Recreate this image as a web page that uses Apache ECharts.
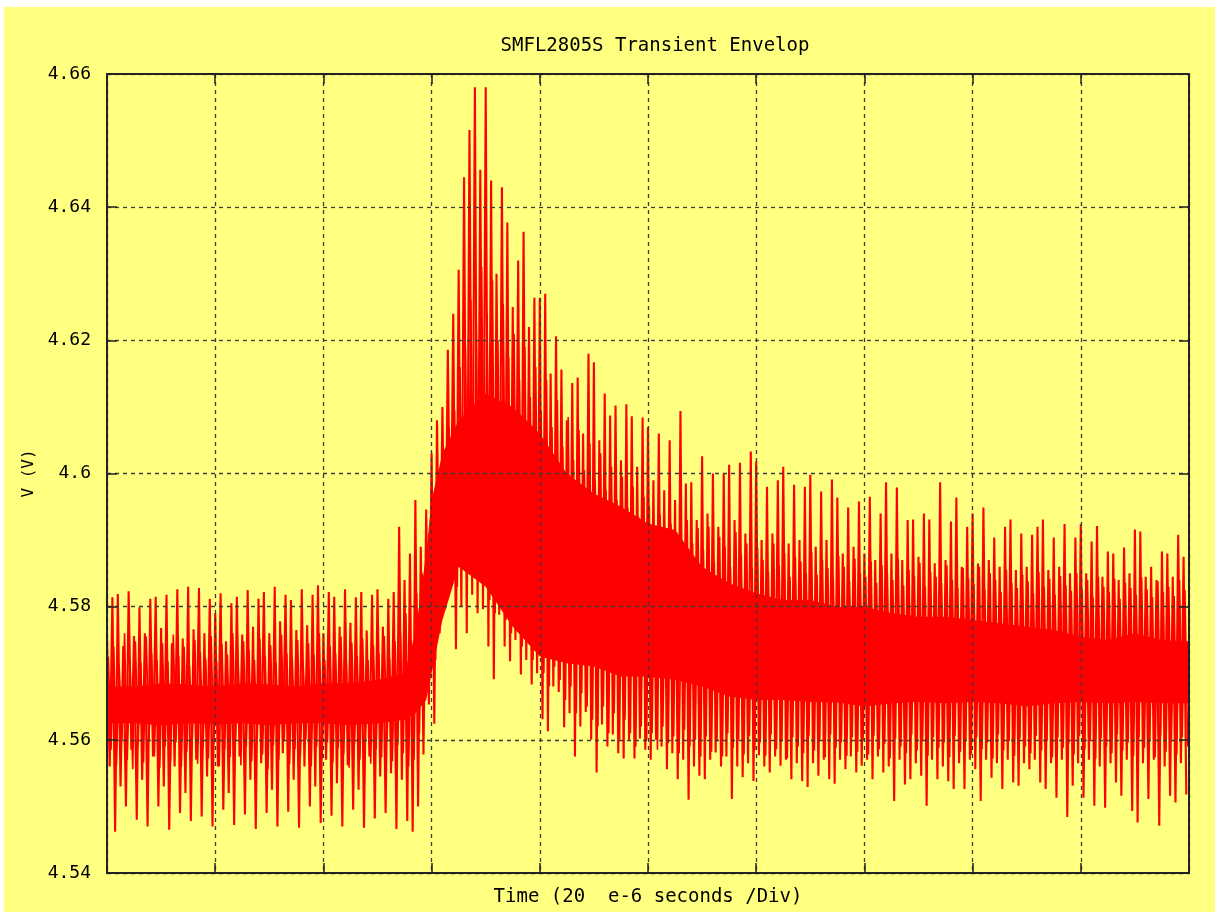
<!DOCTYPE html>
<html>
<head>
<meta charset="utf-8">
<title>SMFL2805S Transient Envelop</title>
<script src="https://cdn.jsdelivr.net/npm/echarts@6/dist/echarts.min.js"></script>
<style>
  html, body { margin: 0; padding: 0; background: #ffffff; }
  #scope { position: absolute; left: 4px; top: 7px; width: 1211px; height: 905px; background: #ffff80; }
</style>
</head>
<body>
<div id="scope"></div>
<script>
// Scope traces, one spike top and one spike bottom per microsecond
const sampleStepUs = 1;

// outer sweep: the tallest spikes
const spikeTop = [
  4.5756, 4.5814, 4.5819, 4.5741, 4.5823, 4.5756, 4.5799, 4.5760, 4.5812, 4.5815,
  4.5768, 4.5818, 4.5745, 4.5826, 4.5752, 4.5830, 4.5766, 4.5828, 4.5760, 4.5812,
  4.5790, 4.5820, 4.5748, 4.5805, 4.5815, 4.5758, 4.5825, 4.5770, 4.5812, 4.5822,
  4.5760, 4.5830, 4.5778, 4.5818, 4.5810, 4.5765, 4.5826, 4.5772, 4.5818, 4.5832,
  4.5760, 4.5822, 4.5815, 4.5770, 4.5826, 4.5776, 4.5814, 4.5822, 4.5764, 4.5818,
  4.5826, 4.5770, 4.5812, 4.5822, 4.5920, 4.5840, 4.5880, 4.5960, 4.5890, 4.5946,
  4.6030, 4.6080, 4.6100, 4.6186, 4.6240, 4.6306, 4.6445, 4.6516, 4.6580, 4.6456,
  4.6580, 4.6440, 4.6300, 4.6430, 4.6377, 4.6250, 4.6320, 4.6363, 4.6220, 4.6264,
  4.6264, 4.6270, 4.6150, 4.6206, 4.6156, 4.6080, 4.6136, 4.6144, 4.6060, 4.6180,
  4.6167, 4.6050, 4.6120, 4.6087, 4.6102, 4.6020, 4.6104, 4.6086, 4.6010, 4.6084,
  4.6070, 4.5990, 4.6060, 4.5975, 4.6050, 4.5960, 4.6094, 4.5985, 4.5987, 4.5930,
  4.6026, 4.5940, 4.6000, 4.5920, 4.6000, 4.6013, 4.5930, 4.6016, 4.5910, 4.6033,
  4.6018, 4.5900, 4.5980, 4.5910, 4.5990, 4.6010, 4.5895, 4.5983, 4.5900, 4.5980,
  4.5998, 4.5890, 4.5973, 4.5900, 4.5991, 4.5964, 4.5880, 4.5949, 4.5890, 4.5958,
  4.5880, 4.5965, 4.5870, 4.5940, 4.5987, 4.5880, 4.5979, 4.5870, 4.5930, 4.5931,
  4.5875, 4.5940, 4.5931, 4.5865, 4.5987, 4.5870, 4.5928, 4.5964, 4.5860, 4.5920,
  4.5940, 4.5865, 4.5949, 4.5870, 4.5904, 4.5860, 4.5920, 4.5931, 4.5855, 4.5910,
  4.5860, 4.5908, 4.5920, 4.5931, 4.5855, 4.5904, 4.5860, 4.5924, 4.5850, 4.5904,
  4.5924, 4.5850, 4.5898, 4.5921, 4.5845, 4.5883, 4.5880, 4.5840, 4.5889, 4.5850,
  4.5916, 4.5913, 4.5845, 4.5860, 4.5840, 4.5883, 4.5880, 4.5845, 4.5908, 4.5875
];

const spikeBottom = [
  4.5560, 4.5462, 4.5530, 4.5500, 4.5585, 4.5480, 4.5540, 4.5470, 4.5575, 4.5500,
  4.5530, 4.5465, 4.5560, 4.5490, 4.5520, 4.5478, 4.5570, 4.5485, 4.5545, 4.5470,
  4.5560, 4.5495, 4.5520, 4.5472, 4.5575, 4.5488, 4.5540, 4.5466, 4.5565, 4.5490,
  4.5525, 4.5470, 4.5580, 4.5492, 4.5540, 4.5468, 4.5560, 4.5500, 4.5530, 4.5475,
  4.5570, 4.5486, 4.5535, 4.5470, 4.5562, 4.5495, 4.5525, 4.5468, 4.5575, 4.5482,
  4.5545, 4.5490, 4.5550, 4.5466, 4.5540, 4.5478, 4.5462, 4.5500, 4.5578, 4.5653,
  4.5624, 4.5760, 4.5796, 4.5840, 4.5736, 4.5800, 4.5760, 4.5818, 4.5790, 4.5796,
  4.5740, 4.5691, 4.5788, 4.5740, 4.5718, 4.5750, 4.5698, 4.5720, 4.5683, 4.5700,
  4.5631, 4.5613, 4.5680, 4.5672, 4.5619, 4.5640, 4.5575, 4.5620, 4.5642, 4.5600,
  4.5551, 4.5623, 4.5590, 4.5608, 4.5580, 4.5572, 4.5600, 4.5572, 4.5602, 4.5585,
  4.5570, 4.5600, 4.5590, 4.5556, 4.5580, 4.5541, 4.5570, 4.5510, 4.5560, 4.5546,
  4.5541, 4.5570, 4.5581, 4.5560, 4.5575, 4.5511, 4.5560, 4.5544, 4.5565, 4.5538,
  4.5577, 4.5560, 4.5551, 4.5575, 4.5561, 4.5570, 4.5541, 4.5565, 4.5538, 4.5529,
  4.5565, 4.5546, 4.5570, 4.5541, 4.5534, 4.5570, 4.5556, 4.5575, 4.5551, 4.5561,
  4.5570, 4.5541, 4.5575, 4.5551, 4.5560, 4.5508, 4.5570, 4.5533, 4.5541, 4.5565,
  4.5546, 4.5501, 4.5570, 4.5541, 4.5560, 4.5538, 4.5526, 4.5565, 4.5526, 4.5570,
  4.5556, 4.5508, 4.5570, 4.5543, 4.5565, 4.5526, 4.5570, 4.5536, 4.5531, 4.5565,
  4.5556, 4.5570, 4.5536, 4.5526, 4.5565, 4.5513, 4.5570, 4.5484, 4.5531, 4.5565,
  4.5513, 4.5570, 4.5501, 4.5560, 4.5498, 4.5565, 4.5536, 4.5516, 4.5570, 4.5493,
  4.5476, 4.5565, 4.5511, 4.5570, 4.5471, 4.5560, 4.5516, 4.5506, 4.5565, 4.5518
];

// inner sweep: the shorter spikes packed in between
const innerTop = [
  4.5725, 4.5740, 4.5712, 4.5760, 4.5722, 4.5748, 4.5716, 4.5755, 4.5730, 4.5720,
  4.5745, 4.5718, 4.5758, 4.5726, 4.5740, 4.5712, 4.5750, 4.5732, 4.5722, 4.5756,
  4.5718, 4.5744, 4.5728, 4.5760, 4.5715, 4.5748, 4.5735, 4.5720, 4.5752, 4.5726,
  4.5742, 4.5716, 4.5758, 4.5730, 4.5722, 4.5750, 4.5718, 4.5745, 4.5728, 4.5760,
  4.5720, 4.5740, 4.5730, 4.5755, 4.5716, 4.5746, 4.5726, 4.5752, 4.5720, 4.5742,
  4.5730, 4.5756, 4.5722, 4.5748, 4.5760, 4.5790, 4.5750, 4.5820, 4.5850, 4.5880,
  4.5930, 4.5985, 4.6015, 4.6070, 4.6095, 4.6160, 4.6190, 4.6260, 4.6230, 4.6310,
  4.6240, 4.6290, 4.6200, 4.6255, 4.6175, 4.6210, 4.6140, 4.6190, 4.6115, 4.6160,
  4.6095, 4.6140, 4.6070, 4.6110, 4.6040, 4.6085, 4.6020, 4.6065, 4.6005, 4.6045,
  4.5990, 4.6030, 4.5975, 4.6010, 4.5960, 4.5995, 4.5948, 4.5980, 4.5935, 4.5965,
  4.5950, 4.5905, 4.5938, 4.5880, 4.5925, 4.5912, 4.5870, 4.5930, 4.5895, 4.5918,
  4.5885, 4.5920, 4.5868, 4.5905, 4.5890, 4.5860, 4.5912, 4.5878, 4.5895, 4.5858,
  4.5888, 4.5870, 4.5852, 4.5895, 4.5862, 4.5880, 4.5845, 4.5875, 4.5868, 4.5850,
  4.5882, 4.5848, 4.5870, 4.5858, 4.5842, 4.5876, 4.5860, 4.5838, 4.5872, 4.5850,
  4.5845, 4.5868, 4.5836, 4.5862, 4.5850, 4.5840, 4.5872, 4.5832, 4.5855, 4.5846,
  4.5866, 4.5830, 4.5852, 4.5845, 4.5836, 4.5862, 4.5840, 4.5828, 4.5858, 4.5842,
  4.5834, 4.5860, 4.5826, 4.5850, 4.5840, 4.5822, 4.5855, 4.5836, 4.5828, 4.5848,
  4.5838, 4.5820, 4.5852, 4.5830, 4.5842, 4.5818, 4.5846, 4.5832, 4.5824, 4.5850,
  4.5826, 4.5840, 4.5815, 4.5845, 4.5830, 4.5822, 4.5842, 4.5812, 4.5836, 4.5828,
  4.5818, 4.5844, 4.5826, 4.5814, 4.5838, 4.5822, 4.5830, 4.5816, 4.5840, 4.5825
];

const innerBottom = [
  4.5585, 4.5562, 4.5598, 4.5570, 4.5556, 4.5592, 4.5566, 4.5600, 4.5575, 4.5558,
  4.5590, 4.5568, 4.5596, 4.5560, 4.5582, 4.5598, 4.5564, 4.5588, 4.5572, 4.5594,
  4.5560, 4.5586, 4.5574, 4.5598, 4.5562, 4.5590, 4.5568, 4.5596, 4.5578, 4.5556,
  4.5592, 4.5570, 4.5598, 4.5564, 4.5586, 4.5576, 4.5600, 4.5560, 4.5590, 4.5572,
  4.5596, 4.5566, 4.5588, 4.5578, 4.5558, 4.5594, 4.5570, 4.5598, 4.5564, 4.5586,
  4.5574, 4.5600, 4.5568, 4.5592, 4.5580, 4.5560, 4.5570, 4.5610, 4.5660, 4.5700,
  4.5720, 4.5780, 4.5820, 4.5860, 4.5830, 4.5870, 4.5850, 4.5880, 4.5840, 4.5860,
  4.5810, 4.5790, 4.5830, 4.5780, 4.5760, 4.5790, 4.5740, 4.5760, 4.5720, 4.5740,
  4.5700, 4.5680, 4.5710, 4.5690, 4.5660, 4.5680, 4.5640, 4.5670, 4.5650, 4.5630,
  4.5620, 4.5650, 4.5610, 4.5640, 4.5600, 4.5630, 4.5610, 4.5590, 4.5620, 4.5600,
  4.5610, 4.5585, 4.5620, 4.5595, 4.5605, 4.5580, 4.5615, 4.5590, 4.5600, 4.5575,
  4.5605, 4.5582, 4.5598, 4.5575, 4.5610, 4.5588, 4.5600, 4.5578, 4.5606, 4.5584,
  4.5596, 4.5576, 4.5608, 4.5586, 4.5598, 4.5572, 4.5604, 4.5590, 4.5580, 4.5606,
  4.5584, 4.5600, 4.5574, 4.5608, 4.5588, 4.5596, 4.5576, 4.5604, 4.5582, 4.5598,
  4.5578, 4.5606, 4.5586, 4.5594, 4.5572, 4.5602, 4.5590, 4.5580, 4.5608, 4.5584,
  4.5598, 4.5576, 4.5604, 4.5588, 4.5596, 4.5574, 4.5606, 4.5582, 4.5600, 4.5578,
  4.5604, 4.5586, 4.5596, 4.5572, 4.5608, 4.5584, 4.5598, 4.5576, 4.5602, 4.5590,
  4.5580, 4.5606, 4.5584, 4.5598, 4.5574, 4.5604, 4.5588, 4.5594, 4.5578, 4.5606,
  4.5586, 4.5598, 4.5572, 4.5602, 4.5590, 4.5580, 4.5608, 4.5584, 4.5596, 4.5576,
  4.5604, 4.5588, 4.5598, 4.5574, 4.5606, 4.5582, 4.5600, 4.5578, 4.5604, 4.5590
];

// solid band where the overlapping sweeps merge
const coreTime = [0, 5, 10, 15, 20, 25, 30, 35, 40, 45, 50, 55, 57, 59, 60, 62, 65, 70, 75, 80,
  85, 90, 95, 100, 105, 110, 115, 120, 125, 130, 135, 140, 145, 150, 155, 160, 165, 170, 175, 180,
  185, 190, 195, 200];
const coreUpper = [4.5680, 4.5680, 4.5685, 4.5683, 4.5680, 4.5685, 4.5683, 4.5680, 4.5685, 4.5685,
  4.5690, 4.5700, 4.5760, 4.5880, 4.5960, 4.6030, 4.6080, 4.6120, 4.6100, 4.6060,
  4.6000, 4.5970, 4.5950, 4.5925, 4.5915, 4.5860, 4.5835, 4.5820, 4.5810, 4.5810,
  4.5800, 4.5800, 4.5790, 4.5785, 4.5785, 4.5780, 4.5775, 4.5770, 4.5765, 4.5755,
  4.5750, 4.5760, 4.5750, 4.5748];
const coreLower = [4.5625, 4.5625, 4.5622, 4.5625, 4.5623, 4.5625, 4.5622, 4.5625, 4.5625, 4.5622,
  4.5625, 4.5630, 4.5640, 4.5660, 4.5700, 4.5780, 4.5860, 4.5830, 4.5770, 4.5725,
  4.5715, 4.5710, 4.5695, 4.5695, 4.5690, 4.5680, 4.5665, 4.5660, 4.5660, 4.5657,
  4.5656, 4.5650, 4.5655, 4.5657, 4.5655, 4.5657, 4.5655, 4.5650, 4.5655, 4.5657,
  4.5655, 4.5657, 4.5655, 4.5655];

const yTicks = [4.54, 4.56, 4.58, 4.6, 4.62, 4.64, 4.66];

// zigzag: top of a spike, then its bottom half a sample later (shift moves the inner sweep)
function zigzag(tops, bottoms, shift) {
    let pts = [];
    tops.forEach((v, i) => {
        pts.push([i * sampleStepUs + shift, v]);
        pts.push([i * sampleStepUs + shift + sampleStepUs / 2, bottoms[i]]);
    });
    return pts;
}

let outerTrace = zigzag(spikeTop, spikeBottom, 0);
let innerTrace = zigzag(innerTop, innerBottom, 0.25);
let coreHi = coreTime.map((t, i) => [t, coreUpper[i]]);
let coreLo = coreTime.map((t, i) => [t, coreLower[i]]);

let scopeChart = echarts.init(document.getElementById("scope"));

const paper = "#ffff80";
const monoFont = "DejaVu Sans Mono";
const gridLine = { show: true, lineStyle: { color: "#3a3a3a", width: 1.3, type: [4, 4] } };
const inTick = { show: true, inside: true, length: 10, lineStyle: { color: "#222", width: 1.5 } };
const frame = { show: true, onZero: false, lineStyle: { color: "#222", width: 2 } };

scopeChart.setOption({
    animation: false,
    backgroundColor: paper,
    title: {
        text: "SMFL2805S Transient Envelop",
        left: 646,
        top: 25,
        textAlign: "center",
        textStyle: { fontFamily: monoFont, fontSize: 19, fontWeight: "normal", color: "#000" }
    },
    grid: { left: 103, top: 67, right: 26, bottom: 38 },
    xAxis: [{
        type: "value", min: 0, max: 200, interval: 20, position: "bottom", z: 10,
        name: "Time (20  e-6 seconds /Div)",
        nameLocation: "middle", nameGap: 15,
        nameTextStyle: { fontFamily: monoFont, fontSize: 19, color: "#000" },
        axisLine: frame, axisTick: inTick, axisLabel: { show: false }, splitLine: gridLine
    }, {
        type: "value", min: 0, max: 200, interval: 20, position: "top", z: 10,
        axisLine: frame, axisTick: inTick, axisLabel: { show: false }, splitLine: { show: false }
    }],
    yAxis: [{
        type: "value", min: 4.54, max: 4.66, interval: 0.02, position: "left", z: 10,
        name: "V (V)",
        nameLocation: "middle", nameGap: 66, nameRotate: 90,
        nameTextStyle: { fontFamily: monoFont, fontSize: 16, color: "#000" },
        axisLine: frame, axisTick: inTick,
        axisLabel: {
            margin: 16, fontFamily: monoFont, fontSize: 18, color: "#000",
            formatter: v => String(yTicks.find(t => Math.abs(t - v) < 1e-6) ?? v)
        },
        splitLine: gridLine
    }, {
        type: "value", min: 4.54, max: 4.66, interval: 0.02, position: "right", z: 10,
        axisLine: frame, axisTick: inTick, axisLabel: { show: false }, splitLine: { show: false }
    }],
    series: [{
        // red fill from the bottom up to the upper edge of the solid band
        type: "line", name: "coreUpper", data: coreHi,
        showSymbol: false, lineStyle: { width: 0 },
        areaStyle: { color: "#ff0000", opacity: 1, origin: "start" }, z: 1, silent: true
    }, {
        // paper-coloured fill cuts away everything under the band
        type: "line", name: "coreLower", data: coreLo,
        showSymbol: false, lineStyle: { width: 0 },
        areaStyle: { color: paper, opacity: 1, origin: "start" }, z: 2, silent: true
    }, {
        type: "line", name: "inner sweep", data: innerTrace,
        showSymbol: false, sampling: null,
        lineStyle: { color: "#ff0000", width: 1.6 }, z: 3, silent: true
    }, {
        type: "line", name: "outer sweep", data: outerTrace,
        showSymbol: false, sampling: null,
        lineStyle: { color: "#ff0000", width: 2.1 }, z: 3, silent: true
    }]
});

window.onresize = function() {
    scopeChart.resize();
};
</script>
</body>
</html>
